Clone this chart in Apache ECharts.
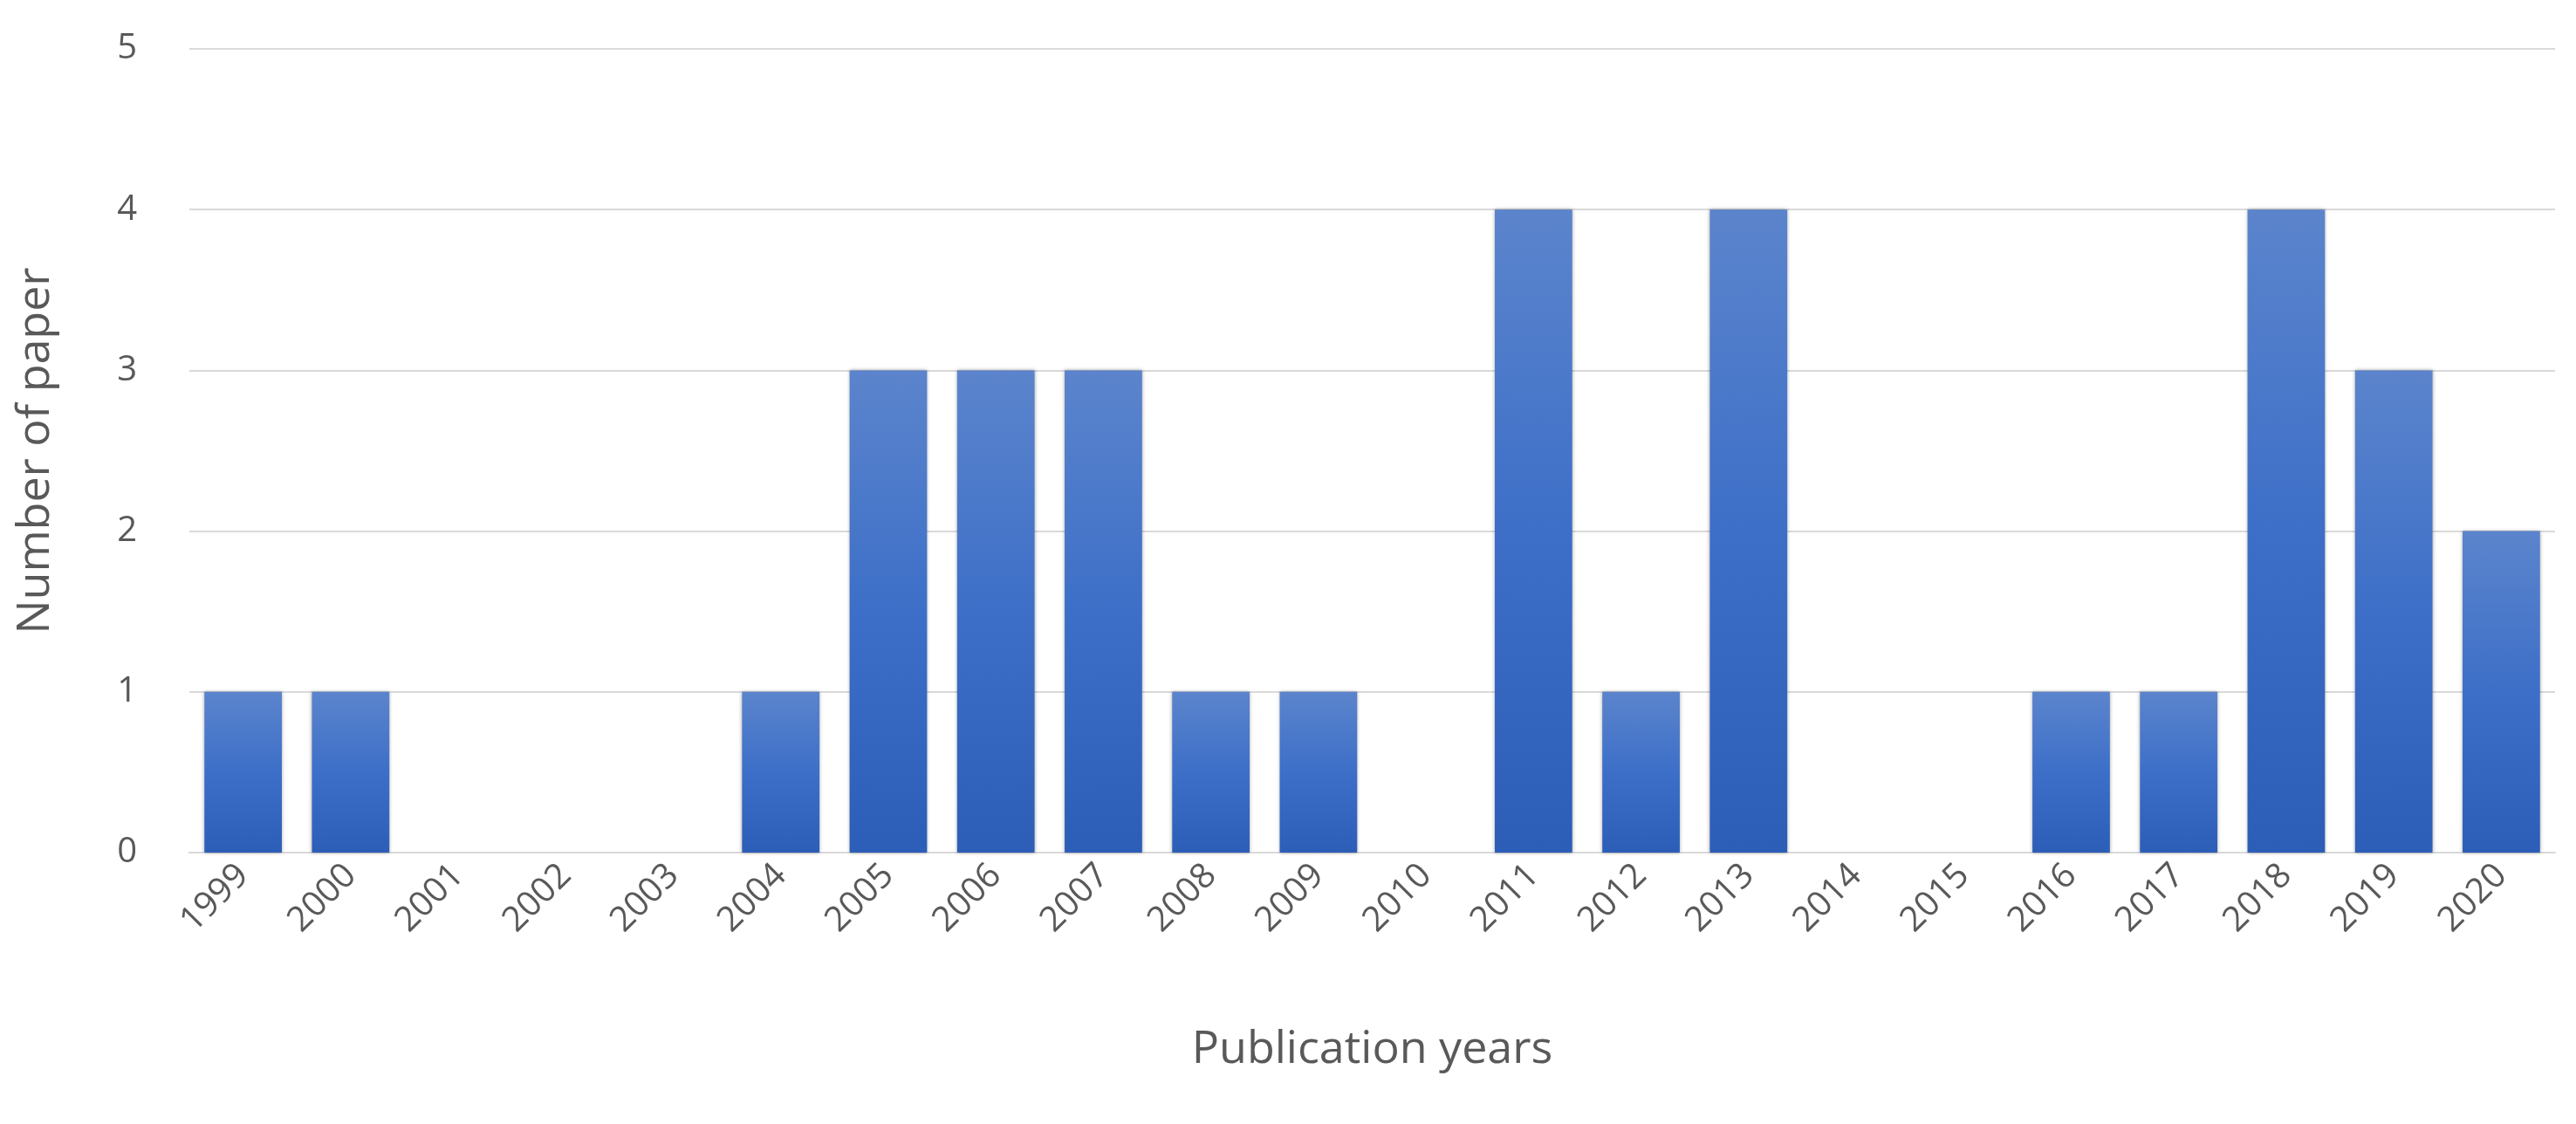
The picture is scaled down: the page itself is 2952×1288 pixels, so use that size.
<!DOCTYPE html>
<html><head><meta charset="utf-8">
<script src="https://cdn.jsdelivr.net/npm/echarts@6/dist/echarts.min.js"></script>
<style>html,body{margin:0;padding:0;background:#fff}#c{width:2952px;height:1288px}</style>
</head><body><div id="c"></div>
<script>
const years = ['1999','2000','2001','2002','2003','2004','2005','2006','2007','2008','2009','2010','2011','2012','2013','2014','2015','2016','2017','2018','2019','2020'];
const papers = [1,1,0,0,0,1,3,3,3,1,1,0,4,1,4,0,0,1,1,4,3,2];
const chart = echarts.init(document.getElementById('c'));
chart.setOption({
  animation:false,
  grid:{left:217,right:24,top:56,bottom:311},
  xAxis:{type:'category',data:years,name:'Publication years',nameLocation:'middle',nameGap:200,
    nameTextStyle:{fontSize:52,color:'#595959',fontFamily:'Open Sans'},
    axisLine:{lineStyle:{color:'#d9d9d9',width:2}},axisTick:{show:false},
    axisLabel:{rotate:45,fontSize:40,color:'#595959',fontFamily:'Open Sans',margin:20,interval:0}},
  yAxis:{type:'value',min:0,max:5,interval:1,name:'Number of paper',nameLocation:'middle',nameGap:150,
    nameTextStyle:{fontSize:52,color:'#595959',fontFamily:'Open Sans'},
    axisLabel:{fontSize:40,color:'#595959',fontFamily:'Open Sans',margin:60},
    splitLine:{lineStyle:{color:'#d9d9d9',width:2}}},
  series:[{type:'bar',data:papers,barCategoryGap:'28%',
    itemStyle:{color:new echarts.graphic.LinearGradient(0,0,0,1,[{offset:0,color:'#5b84cc'},{offset:0.5,color:'#3d6fc8'},{offset:1,color:'#2c5eb7'}]),
      shadowColor:'rgba(0,0,0,0.35)',shadowBlur:4}}]
});
</script></body></html>
